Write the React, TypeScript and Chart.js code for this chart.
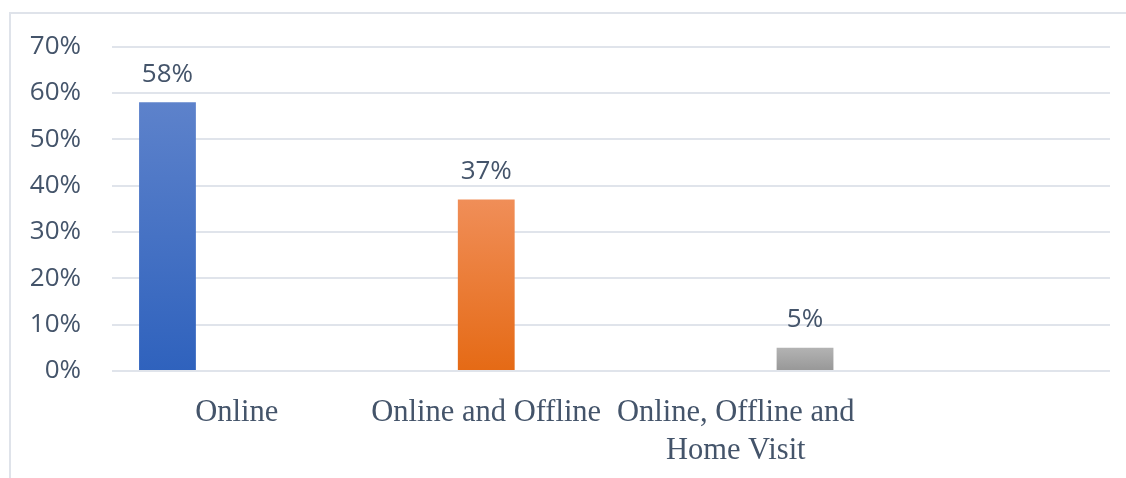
import React, { useEffect, useRef } from "react";
import { Chart, registerables } from "chart.js";

Chart.register(...registerables);

const categories: (string | string[])[] = [
  "Online",
  "Online and Offline",
  ["Online, Offline and", "Home Visit"],
  "",
];
const seriesNames = ["Online", "Online and Offline", "Online, Offline and Home Visit"];
const values = [58, 37, 5];
const yTicks = [0, 10, 20, 30, 40, 50, 60, 70];
const gradientStops: [string, string][] = [
  ["#5d82cb", "#2f62bd"],
  ["#f08e58", "#e56a15"],
  ["#b3b3b3", "#979797"],
];

const TEXT = "#44546a";
const GRID = "#e0e4eb";

export default function App() {
  const ref = useRef<HTMLCanvasElement | null>(null);

  useEffect(() => {
    if (!ref.current) return;

    const datasets = seriesNames.map((name, i) => ({
      label: name,
      data: categories.map((_, j) => (j === i ? values[i] : null)),
      backgroundColor: (ctx: any) => {
        const chart = ctx.chart;
        const ys = chart.scales && chart.scales.y;
        if (!chart.chartArea || !ys) return gradientStops[i][1];
        const top = ys.getPixelForValue(values[i]);
        const bottom = ys.getPixelForValue(0);
        const g = chart.ctx.createLinearGradient(0, top, 0, bottom);
        g.addColorStop(0, gradientStops[i][0]);
        g.addColorStop(1, gradientStops[i][1]);
        return g;
      },
      categoryPercentage: 0.833,
      barPercentage: 0.82,
    }));

    const framePlugin = {
      id: "frame",
      beforeDraw(chart: any) {
        const c = chart.ctx;
        c.save();
        c.fillStyle = "#ffffff";
        c.fillRect(0, 0, chart.width, chart.height);
        c.fillStyle = "#dfe3ea";
        c.fillRect(9, 12, chart.width - 9, 2);
        c.fillRect(9, 12, 2, chart.height - 12);
        c.restore();
      },
    };

    const labelPlugin = {
      id: "valueLabels",
      afterDatasetsDraw(chart: any) {
        const c = chart.ctx;
        c.save();
        c.font = "26px 'Open Sans'";
        c.fillStyle = TEXT;
        c.textAlign = "center";
        c.textBaseline = "middle";
        chart.data.datasets.forEach((ds: any, i: number) => {
          const meta = chart.getDatasetMeta(i);
          meta.data.forEach((el: any, j: number) => {
            const v = ds.data[j];
            if (v === null || v === undefined) return;
            c.fillText(v + "%", el.x, el.y - 28);
          });
        });
        c.restore();
      },
    };

    const chart = new Chart(ref.current, {
      type: "bar",
      data: { labels: categories as any, datasets: datasets as any },
      options: {
        animation: false,
        responsive: false,
        layout: { padding: { top: 46, right: 16, bottom: 0, left: 0 } },
        plugins: {
          legend: { display: false },
          tooltip: { enabled: false },
        },
        scales: {
          x: {
            grid: { display: false, drawTicks: false },
            border: { display: false },
            ticks: {
              color: TEXT,
              font: { family: "'Liberation Serif', 'Times New Roman', serif", size: 30.5, lineHeight: 1.24 },
              padding: 23,
              maxRotation: 0,
              autoSkip: false,
            },
            afterFit: (s: any) => {
              s.height = 107;
            },
          },
          y: {
            min: 0,
            max: 70,
            afterBuildTicks: (s: any) => {
              s.ticks = yTicks.map((v) => ({ value: v }));
            },
            grid: { color: GRID, lineWidth: 2, drawTicks: false },
            border: { display: false },
            ticks: {
              color: TEXT,
              font: { family: "'Open Sans', sans-serif", size: 26 },
              padding: 31,
              callback: (v: any) => v + "%",
            },
            afterFit: (s: any) => {
              s.width = 112;
            },
          },
        },
      },
      plugins: [framePlugin, labelPlugin],
    });

    return () => chart.destroy();
  }, []);

  return (
    <div style={{ position: "absolute", left: 0, top: 0, width: 1126, height: 478 }}>
      <canvas ref={ref} width={1126} height={478} style={{ display: "block" }} />
    </div>
  );
}
